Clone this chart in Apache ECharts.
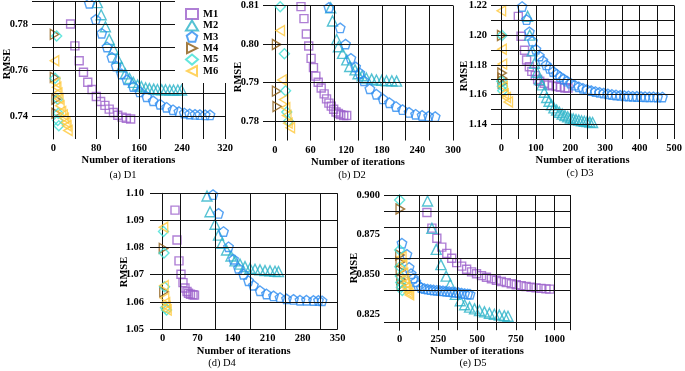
<!DOCTYPE html>
<html><head><meta charset="utf-8">
<script src="https://cdn.jsdelivr.net/npm/echarts@6/dist/echarts.min.js"></script>
<style>html,body{margin:0;padding:0;background:#fff}#c{width:685px;height:371px}</style>
</head><body><div id="c"></div>
<script>
// ---------------- data ----------------
const methods = ['M1','M2','M3','M4','M5','M6'];
const panelNames = ['(a) D1','(b) D2','(c) D3','(d) D4','(e) D5'];
const xTitle = 'Number of iterations';
const yTitle = 'RMSE';

const D1_xLabels = [0,80,160,240,320];
const D1_yLabels = [0.74,0.76,0.78];
const D2_xLabels = [0,60,120,180,240,300];
const D2_yLabels = [0.78,0.79,0.80,0.81];
const D3_xLabels = [0,100,200,300,400,500];
const D3_yLabels = [1.14,1.16,1.18,1.20,1.22];
const D4_xLabels = [0,70,140,210,280,350];
const D4_yLabels = [1.05,1.06,1.07,1.08,1.09,1.10];
const D5_xLabels = [0,250,500,750,1000];
const D5_yLabels = [0.825,0.850,0.875,0.900];

const D1_M1 = [[32,0.780],[40,0.7705],[48,0.764],[56,0.759],[64,0.7547],[72,0.7515],[80,0.7485],[88,0.7463],[96,0.7446],[104,0.743],[112,0.7415],[120,0.7403],[128,0.7395],[136,0.739],[144,0.7387]];
const D1_M2 = [[82,0.7893],[89,0.784],[97,0.7788],[104,0.7733],[112,0.769],[119,0.7651],[127,0.7614],[134,0.7583],[142,0.7563],[149,0.7546],[157,0.7535],[164,0.7528],[172,0.7522],[179,0.7519],[187,0.7517],[194,0.7515],[202,0.7514],[209,0.7514],[217,0.7513],[224,0.7513],[232,0.7513],[239,0.7513]];
const D1_M3 = [[67,0.789],[79,0.782],[90,0.776],[100,0.770],[109,0.7655],[117,0.7617],[127,0.7583],[137,0.7557],[149,0.7528],[161,0.7505],[174,0.7484],[186,0.7466],[199,0.7451],[211,0.7438],[223,0.7427],[234,0.7419],[244,0.7413],[254,0.7409],[264,0.7407],[273,0.7406],[283,0.7405],[292,0.7405]];
const D1_M4 = [[2,0.7755],[2,0.7568],[5,0.7473],[5,0.7412]];
const D1_M5 = [[6,0.7748],[3,0.7564],[8,0.7473],[9,0.7412],[8,0.738],[10,0.7358]];
const D1_M6 = [[2,0.764],[4,0.7545],[6,0.7525],[8,0.75],[10,0.7475],[12,0.7445],[15,0.742],[18,0.7405],[20,0.739],[23,0.7372],[25,0.7358],[27,0.7337]];

const D2_M1 = [[44,0.8097],[49,0.8066],[53,0.8026],[57,0.7995],[61,0.7963],[65,0.7939],[69,0.7917],[73,0.7901],[78,0.7886],[83,0.7871],[87,0.7858],[91,0.7847],[95,0.7839],[99,0.7831],[103,0.7824],[107,0.782],[111,0.7817],[116,0.7815],[121,0.7815]];
const D2_M2 = [[94,0.8094],[97,0.806],[104,0.8012],[107,0.7993],[114,0.7976],[121,0.7959],[126,0.7942],[135,0.7933],[140,0.7923],[147,0.7918],[154,0.7912],[163,0.7909],[171,0.7907],[180,0.7906],[188,0.7905],[197,0.7905],[205,0.7904]];
const D2_M3 = [[91,0.8095],[110,0.8042],[119,0.8],[128,0.7963],[136,0.7941],[143,0.7925],[150,0.7905],[160,0.7884],[171,0.787],[182,0.7858],[193,0.7848],[204,0.7838],[215,0.783],[226,0.7823],[237,0.7818],[248,0.7815],[259,0.7813],[270,0.7812]];
const D2_M4 = [[3,0.7999],[3,0.7878],[4,0.7838]];
const D2_M5 = [[9,0.8097],[16,0.7975],[18,0.7879],[20,0.7824],[23,0.78]];
const D2_M6 = [[9,0.8035],[12,0.7907],[15,0.7856],[18,0.7835],[20,0.7815],[22,0.7795],[26,0.7783]];

const D3_M1 = [[49,1.2127],[57,1.1993],[67,1.1898],[73,1.1833],[81,1.1787],[88,1.1756],[98,1.1727],[105,1.1702],[111,1.1689],[124,1.1676],[136,1.1664],[148,1.1658],[159,1.1653],[171,1.1649],[184,1.1644],[193,1.1644]];
const D3_M2 = [[76,1.2127],[82,1.2],[89,1.1895],[96,1.181],[103,1.175],[110,1.17],[117,1.1665],[124,1.1615],[131,1.158],[138,1.1555],[145,1.153],[152,1.151],[160,1.1495],[168,1.148],[176,1.1468],[184,1.1458],[192,1.1449],[200,1.1442],[208,1.1436],[216,1.1431],[224,1.1427],[232,1.1423],[240,1.142],[248,1.1417],[256,1.1414],[264,1.1411]];
const D3_M3 = [[60,1.2193],[73,1.2105],[81,1.2022],[90,1.196],[100,1.1905],[110,1.186],[120,1.1828],[130,1.18],[140,1.1776],[150,1.1755],[160,1.1737],[170,1.172],[180,1.1705],[190,1.169],[200,1.1677],[212,1.1663],[224,1.1652],[236,1.1642],[248,1.1634],[260,1.1626],[272,1.162],[284,1.1614],[296,1.1609],[308,1.1604],[320,1.16],[332,1.1597],[344,1.1594],[356,1.1592],[368,1.159],[380,1.1588],[392,1.1587],[404,1.1586],[416,1.1585],[428,1.1584],[440,1.1584],[452,1.1583],[466,1.1583]];
const D3_M4 = [[1,1.1998],[2,1.1745],[3,1.171],[3,1.1675]];
const D3_M5 = [[2,1.1998],[1,1.169],[3,1.1655],[4,1.1625]];
const D3_M6 = [[0,1.2164],[2,1.1905],[3,1.1805],[5,1.1655],[8,1.1605],[14,1.158],[20,1.155]];

const D4_M1 = [[25,1.0938],[29,1.0828],[33,1.0751],[37,1.0702],[41,1.0671],[45,1.0651],[49,1.0638],[52,1.0632],[56,1.0628],[61,1.0626],[64,1.0625]];
const D4_M2 = [[89,1.099],[95,1.0932],[105,1.0886],[112,1.0846],[119,1.0816],[128,1.0791],[137,1.0769],[145,1.0751],[155,1.0739],[165,1.073],[175,1.0724],[185,1.072],[195,1.0718],[205,1.0715],[215,1.0714],[225,1.0713],[232,1.0712]];
const D4_M3 = [[101,1.0995],[112,1.0926],[122,1.0859],[132,1.0803],[142,1.0757],[152,1.0724],[162,1.0702],[172,1.0678],[182,1.0661],[195,1.0641],[208,1.0629],[222,1.0622],[235,1.0616],[248,1.0611],[262,1.0609],[275,1.0606],[288,1.0606],[302,1.0605],[312,1.0605],[319,1.0604]];
const D4_M4 = [[2,1.0797],[3,1.0637]];
const D4_M5 = [[2,1.0859],[3,1.078],[4,1.0656],[6,1.0578],[8,1.057]];
const D4_M6 = [[2,1.0875],[3,1.066],[4,1.0614],[6,1.0597],[7,1.0582],[9,1.057]];

const D5_M1 = [[177,0.889],[209,0.8792],[241,0.8728],[273,0.8672],[305,0.8633],[337,0.8602],[369,0.8575],[401,0.8553],[433,0.8533],[465,0.8517],[497,0.8505],[529,0.8493],[561,0.8483],[593,0.8473],[625,0.8464],[657,0.8456],[689,0.8449],[721,0.8442],[753,0.8436],[785,0.843],[817,0.8425],[849,0.842],[881,0.8416],[913,0.8413],[945,0.841],[970,0.8408]];
const D5_M2 = [[181,0.8962],[209,0.879],[237,0.8658],[267,0.8562],[301,0.849],[327,0.8437],[360,0.8375],[392,0.8335],[420,0.831],[452,0.8295],[484,0.8284],[516,0.8274],[548,0.8265],[580,0.8257],[612,0.825],[644,0.8245],[676,0.8241],[700,0.8238]];
const D5_M3 = [[16,0.8697],[48,0.8627],[62,0.8545],[75,0.8505],[90,0.8478],[105,0.8455],[120,0.8432],[140,0.8418],[160,0.8412],[180,0.8408],[200,0.8405],[220,0.8403],[240,0.8401],[260,0.8399],[280,0.8397],[300,0.8395],[320,0.8393],[340,0.8391],[360,0.8389],[380,0.8386],[400,0.8383],[420,0.838],[440,0.8378],[455,0.8376]];
const D5_M4 = [[5,0.8912],[3,0.8623],[5,0.8578],[6,0.8525],[10,0.847],[12,0.8435]];
const D5_M5 = [[1,0.8969],[1,0.8654],[2,0.8549],[5,0.849],[8,0.845],[12,0.842],[18,0.84]];
const D5_M6 = [[15,0.8612],[20,0.8565],[26,0.8508],[32,0.8475],[37,0.8445],[43,0.842],[50,0.8403],[58,0.8385],[64,0.8372]];

// ---------------- layout / style ----------------
const FONT = 'Liberation Serif';
const FS = 10.5;
const colors = ['#9B5FCB','#2BB3C8','#2D8CF0','#8B5A12','#3DE0D5','#FFC83A'];
const symbols = ['rect','triangle','path://M0,-1L0.951,-0.309L0.588,0.809L-0.588,0.809L-0.951,-0.309Z','path://M0,0L1,0.5L0,1Z','diamond','path://M1,0L0,0.5L1,1Z'];
const sizes = [8,10,9.5,[8.5,10],10,[8.5,10]];
const seriesData = [
  [D1_M1,D1_M2,D1_M3,D1_M4,D1_M5,D1_M6],
  [D2_M1,D2_M2,D2_M3,D2_M4,D2_M5,D2_M6],
  [D3_M1,D3_M2,D3_M3,D3_M4,D3_M5,D3_M6],
  [D4_M1,D4_M2,D4_M3,D4_M4,D4_M5,D4_M6],
  [D5_M1,D5_M2,D5_M3,D5_M4,D5_M5,D5_M6]
];
const xLabelSets = [D1_xLabels,D2_xLabels,D3_xLabels,D4_xLabels,D5_xLabels];
const yLabelSets = [D1_yLabels,D2_yLabels,D3_yLabels,D4_yLabels,D5_yLabels];
const yDec = [2,2,2,2,3];

function range(a,b,s){const o=[];for(let i=0;a+i*s<=b+s*1e-6;i++)o.push(+(a+i*s).toFixed(6));return o;}

const panels = [
  {rect:{left:32,top:1,width:193,height:138}, x:{min:-40,max:320,step:40}, y:{min:0.73,max:0.79,step:0.01},
   xGrid:range(0,320,40), yGrid:range(0.74,0.79,0.01), rmse:[7,64], name:[123,175], nameGap:16},
  {rect:{left:263,top:4,width:190,height:136.5}, x:{min:-20,max:300,step:20}, y:{min:0.775,max:0.81,step:0.005},
   xGrid:range(20,300,40), yGrid:range(0.78,0.81,0.005), rmse:[238,77], name:[352,175], nameGap:15},
  {rect:{left:491,top:4,width:185.5,height:135}, x:{min:-30,max:500,step:10}, y:{min:1.13,max:1.22,step:0.01},
   xGrid:range(0,500,50), yGrid:range(1.14,1.22,0.01), rmse:[464,76], name:[580,173], nameGap:16},
  {rect:{left:150,top:193.3,width:187.5,height:135.7}, x:{min:-25,max:350,step:5}, y:{min:1.05,max:1.10,step:0.005},
   xGrid:range(35,315,70).concat([350]), yGrid:range(1.05,1.10,0.005), rmse:[124,272], name:[222,363], nameGap:17},
  {rect:{left:384,top:195,width:186,height:135.2}, x:{min:-100,max:1100,step:50}, y:{min:0.815,max:0.9,step:0.005},
   xGrid:range(0,1000,125).concat([1100]), yGrid:range(0.825,0.9,0.0125), rmse:[354,268], name:[473,363], nameGap:16}
];

function fmt(list, dec){
  return v => { const t = list.find(t => Math.abs(t - v) < 1e-7); return t === undefined ? '' : (dec ? t.toFixed(dec) : String(t)); };
}

const grid=[], xAxis=[], yAxis=[], series=[], graphic=[];
const lblStyle = {fontFamily:FONT, fontWeight:'bold', fontSize:FS, color:'#000'};
panels.forEach((p,i)=>{
  grid.push(Object.assign({containLabel:false}, p.rect));
  xAxis.push({type:'value', gridIndex:i, min:p.x.min, max:p.x.max, interval:p.x.step,
    axisLine:{show:false}, axisTick:{show:false}, splitLine:{show:false},
    axisLabel:Object.assign({margin:4, showMinLabel:true, showMaxLabel:true, formatter:fmt(xLabelSets[i])}, lblStyle),
    name:xTitle, nameLocation:'middle', nameGap:p.nameGap,
    nameTextStyle:{fontFamily:FONT, fontWeight:'bold', fontSize:FS, color:'#000'}});
  yAxis.push({type:'value', gridIndex:i, min:p.y.min, max:p.y.max, interval:p.y.step,
    axisLine:{show:true, lineStyle:{color:'#111', width:1}}, axisTick:{show:false}, splitLine:{show:false},
    axisLabel:Object.assign({margin:i===3?6:4, showMinLabel:true, showMaxLabel:true, formatter:fmt(yLabelSets[i], yDec[i])}, lblStyle)});
  series.push({type:'scatter', xAxisIndex:i, yAxisIndex:i, data:[], z:1, silent:true,
    markLine:{silent:true, symbol:['none','none'], label:{show:false}, animation:false,
      lineStyle:{color:'#111', width:1, type:'solid'},
      data: p.xGrid.map(v=>({xAxis:v})).concat(p.yGrid.map(v=>({yAxis:v})))}});
  methods.forEach((m,k)=>{
    series.push({type:'scatter', name:m, xAxisIndex:i, yAxisIndex:i, data:seriesData[i][k], z:3,
      symbol:symbols[k], symbolSize:sizes[k],
      itemStyle:{color:'rgba(255,255,255,0)', borderColor:colors[k], borderWidth:1.4}});
  });
  graphic.push({type:'text', x:p.rmse[0], y:p.rmse[1], rotation:Math.PI/2,
    style:{text:yTitle, font:'bold 10.5px "Liberation Serif"', fill:'#000', textAlign:'center', textVerticalAlign:'middle'}});
  graphic.push({type:'text', x:p.name[0], y:p.name[1],
    style:{text:panelNames[i], font:'10.5px "Liberation Serif"', fill:'#000', textAlign:'center', textVerticalAlign:'middle'}});
});

const chart = echarts.init(document.getElementById('c'), null, {renderer:'canvas'});
chart.setOption({
  animation:false,
  backgroundColor:'#fff',
  grid, xAxis, yAxis, series, graphic,
  legend:{data:methods, orient:'vertical', left:175, top:0, padding:[8,8,6,10], itemWidth:12, itemHeight:10, itemGap:-0.6,
    backgroundColor:'#fff', z:10, textStyle:{fontFamily:FONT, fontWeight:'bold', fontSize:10.5, color:'#000'}}
});
</script></body></html>
